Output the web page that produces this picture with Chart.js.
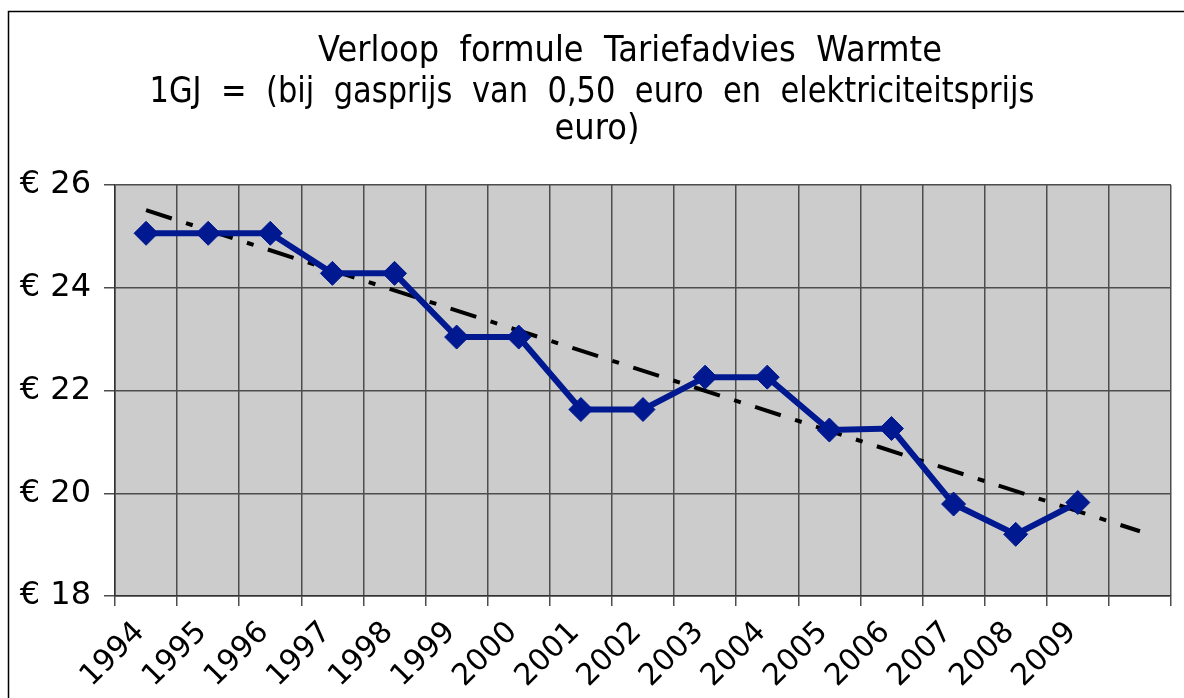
<!DOCTYPE html>
<html>
<head>
<meta charset="utf-8">
<script src="https://cdn.jsdelivr.net/npm/chart.js@4.4.0/dist/chart.umd.min.js"></script>
<style>
  html, body { margin: 0; padding: 0; background: #fff; }
  #wrap { width: 1184px; height: 698px; position: relative; }
</style>
</head>
<body>
<div id="wrap"><canvas id="chart"></canvas></div>
<script>
// Data
const years = ['1994', '1995', '1996', '1997', '1998', '1999', '2000', '2001',
               '2002', '2003', '2004', '2005', '2006', '2007', '2008', '2009', ''];
const tarief = [25.06, 25.06, 25.06, 24.28, 24.28, 23.04, 23.04, 21.63,
                21.63, 22.26, 22.26, 21.23, 21.26, 19.79, 19.20, 19.82];
// linear trendline, start and end values (one period forecast)
const trendStart = 25.51;
const trendEnd = 19.26;
const yTicks = [18, 20, 22, 24, 26];

const titleLines = [
  'Verloop  formule  Tariefadvies  Warmte',
  '1GJ  =  (bij  gasprijs  van  0,50  euro  en  elektriciteitsprijs',
  'euro)'
];

const BLUE = '#001890';

const trend = years.map((y, i) => i === 0 ? trendStart : (i === years.length - 1 ? trendEnd : null));

/**
 * Frame, grey plot background and title
 */
const decor = {
  id: 'decor',
  beforeDraw(chart) {
    const { ctx, chartArea: a } = chart;
    ctx.save();
    ctx.fillStyle = '#cccccc';
    ctx.fillRect(a.left, a.top, a.right - a.left, a.bottom - a.top);
    ctx.restore();
  },
  afterDraw(chart) {
    const ctx = chart.ctx;
    ctx.save();
    ctx.strokeStyle = '#000';
    ctx.lineWidth = 1.5;
    ctx.strokeRect(8.5, 11.5, 1250, 750);

    // title lines: [center x, baseline y, width]
    const place = [[630, 61, 624], [592, 102, 885], [597, 139, 85]];
    ctx.fillStyle = '#000';
    ctx.font = '35px "DejaVu Sans"';
    ctx.textAlign = 'left';
    ctx.textBaseline = 'alphabetic';
    titleLines.forEach((txt, i) => {
      const [cx, by, w] = place[i];
      const m = ctx.measureText(txt).width;
      const sx = w / m;
      ctx.save();
      ctx.translate(cx - w / 2, by);
      ctx.scale(sx, 1);
      ctx.fillText(txt, 0, 0);
      ctx.restore();
    });
    ctx.restore();
  }
};

new Chart(document.getElementById('chart'), {
  type: 'line',
  data: {
    labels: years,
    datasets: [
      {
        label: 'Tarief',
        data: tarief,
        borderColor: BLUE,
        backgroundColor: BLUE,
        borderWidth: 6,
        pointStyle: 'rectRot',
        pointRadius: 12,
        pointBorderWidth: 1,
        pointBackgroundColor: BLUE,
        pointBorderColor: BLUE,
        tension: 0,
        order: 1
      },
      {
        label: 'Trend',
        data: trend,
        spanGaps: true,
        borderColor: '#000',
        borderWidth: 4,
        borderDash: [27, 15, 7, 15],
        pointRadius: 0,
        tension: 0,
        order: 2
      }
    ]
  },
  options: {
    responsive: true,
    maintainAspectRatio: false,
    animation: false,
    layout: { padding: { top: 185, right: 13, left: 0, bottom: 0 } },
    plugins: {
      legend: { display: false },
      title: { display: false },
      tooltip: { enabled: false }
    },
    scales: {
      x: {
        offset: true,
        grid: {
          offset: true,
          color: '#4d4d4d',
          lineWidth: 1.5,
          tickLength: 10,
          drawTicks: true
        },
        border: { color: '#333', width: 1.5 },
        ticks: {
          autoSkip: false,
          minRotation: 45,
          maxRotation: 45,
          labelOffset: -6,
          padding: 9,
          color: '#000',
          font: { family: '"DejaVu Sans"', size: 30 }
        },
        afterFit(scale) { scale.height = 102; }
      },
      y: {
        min: 18,
        max: 26,
        afterBuildTicks(scale) { scale.ticks = yTicks.map(v => ({ value: v })); },
        grid: {
          color: '#4d4d4d',
          lineWidth: 1.5,
          tickLength: 11,
          drawTicks: true
        },
        border: { color: '#333', width: 1.5 },
        ticks: {
          padding: 13,
          color: '#000',
          font: { family: '"DejaVu Sans"', size: 32 },
          callback: v => '€ ' + v
        },
        afterFit(scale) { scale.width = 115; }
      }
    }
  },
  plugins: [decor]
});
</script>
</body>
</html>
